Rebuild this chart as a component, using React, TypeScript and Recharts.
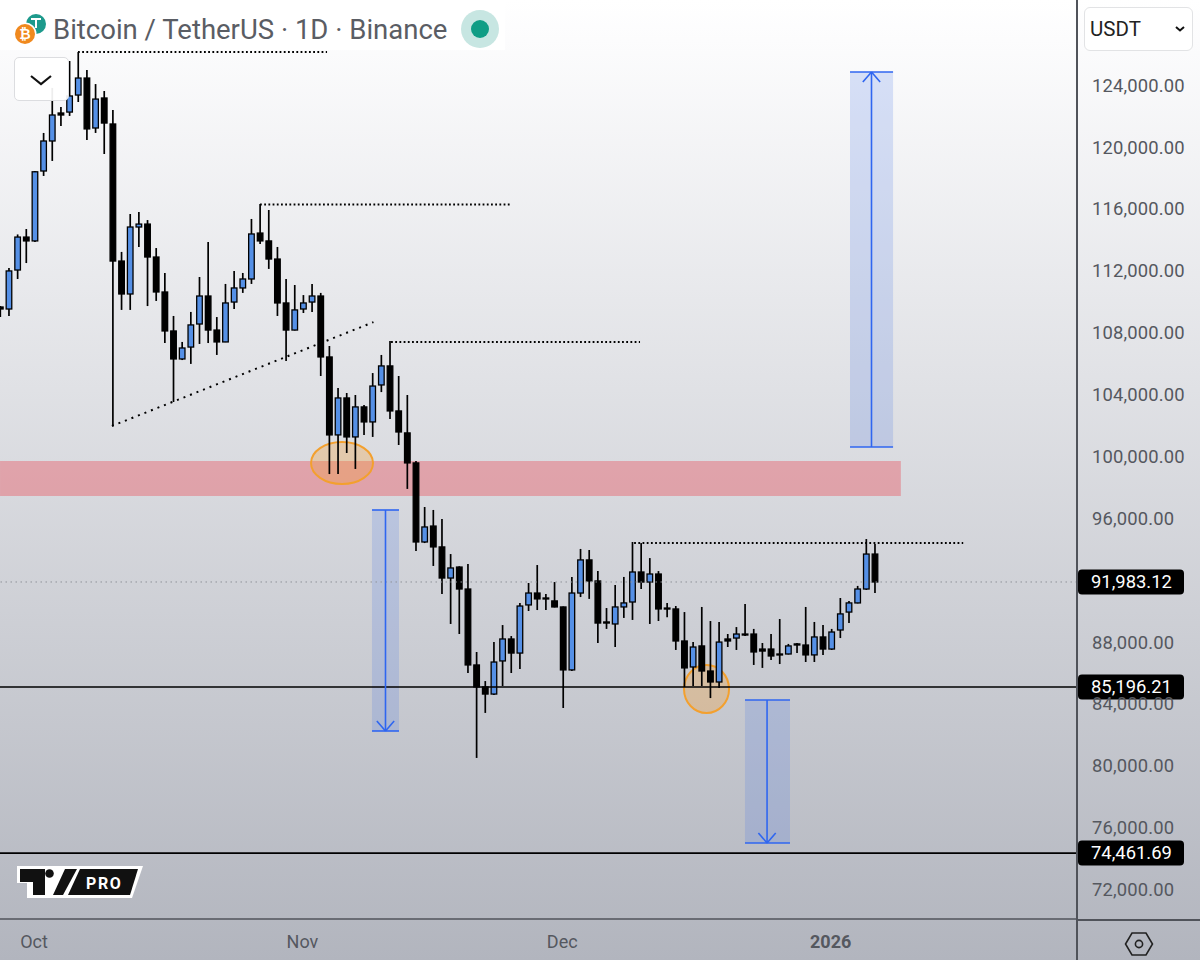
import React from 'react';
import { ComposedChart, Bar, XAxis, YAxis, ReferenceLine, ReferenceArea } from 'recharts';

const FONT = 'Roboto, sans-serif';

const opens = [109760,109630,112150,114280,114030,118550,120490,122300,122360,123460,124560,121330,123270,121590,112730,110600,114930,115120,112990,110730,108210,106400,107170,108660,110470,108270,107500,110080,110990,111570,114540,114030,112860,110020,108270,109630,110080,110470,106530,101490,103880,101360,103300,102330,104720,105950,103040,101620,99680,94570,95600,94250,92240,92950,91530,86620,85200,84740,86880,88300,87390,90500,91270,90950,90760,90370,86300,91270,93410,92050,89400,89270,90370,90690,92630,91980,92500,90300,90240,88170,86490,87850,86230,85520,88300,88360,88620,88620,87650,87650,87330,87330,87980,87910,87270,88430,87650,88880,90040,90630,91530,93790];
const highs = [109824,112280,114450,114800,118550,121010,123920,122690,125660,126240,125080,124170,123720,122490,113320,115770,115900,115380,113570,111960,109180,107500,109440,111700,113960,109110,111250,112090,111960,115450,116420,116030,113640,111570,111180,110530,111250,110670,107240,104520,104200,104070,103420,105490,106660,107560,105300,104070,99800,96830,96640,96060,93790,93000,93150,87460,85580,88100,89200,88490,90630,91920,93080,91210,91980,90400,92310,94120,94050,92690,90300,91790,92310,94570,94500,93530,92690,90630,90430,90040,88100,90370,89460,89400,88620,89070,90560,88950,88040,88620,89590,87980,88040,90370,89400,89200,88950,90950,90760,91730,94760,94440];
const lows = [109113,109180,111570,112600,113960,118230,119200,121460,122110,123010,120550,121010,119650,102070,109570,109570,113640,109820,110150,107430,103620,106330,106080,107370,107430,106660,107490,109630,110670,111250,113830,112220,109180,106270,108240,109370,109440,105300,98960,98960,100320,99290,101490,101360,104260,102520,100840,98000,93990,94500,93020,91210,89270,88620,86100,80610,83520,84680,85260,86100,86360,90110,90170,90170,90340,83840,86230,91010,90890,88040,88950,87780,89660,89530,91530,89270,89460,89700,87590,85200,85260,85260,84480,85130,87780,87590,88490,86620,86430,86940,86680,87300,87390,86810,86810,87270,87590,88360,89330,90600,91470,91270];
const closes = [109630,112090,114280,114030,118500,120490,122170,122170,123400,124560,121270,123200,121650,112730,110600,114930,115120,112990,110730,108210,106400,107110,108600,110470,108270,107500,110020,110990,111570,114480,114030,112860,110020,108270,109570,110020,110470,106530,101490,103880,101360,103300,102330,104650,105950,103040,101680,99680,94570,95540,94250,92240,92890,91530,86620,85200,84740,86810,88300,87390,90430,91270,90890,90890,90370,86300,91270,93410,92050,89330,89330,90370,90630,92630,91980,92500,90240,90240,88170,86430,87780,86230,85520,88100,88170,88620,88560,87460,87520,87200,87270,87850,87910,87270,88430,87650,88750,89920,90630,91530,93790,91983];

const yTicks = [72000, 76000, 80000, 84000, 88000, 96000, 100000, 104000, 108000, 112000, 116000, 120000, 124000];
const monthDays = [4, 35, 65, 96];
const monthLabels = ['Oct', 'Nov', 'Dec', '2026'];

const priceTags = [
  { price: 91983.12, text: '91,983.12', dotted: true },
  { price: 85196.21, text: '85,196.21', dotted: false },
  { price: 74461.69, text: '74,461.69', dotted: false },
];

// dotted drawings: [day from, price from, day to, price to]
const dottedLevels = [
  [9.08, 126242, 37.84, 126242],
  [30.1, 116385, 58.97, 116385],
  [45.23, 107497, 73.98, 107497],
  [73.3, 94504, 111.3, 94504],
  [13.0, 102067, 43.2, 108780],
];

// measured projections: box edges in days, price top/bottom and arrow direction
const projections = [
  { x1: 98.23, x2: 103.2, mid: 100.71, top: 124949, bottom: 100709, up: true },
  { x1: 43.03, x2: 46.15, mid: 44.59, top: 96637, bottom: 82352, up: false },
  { x1: 86.1, x2: 91.3, mid: 88.65, top: 84355, bottom: 75112, up: false },
];

const zone = { x1: 0.08, x2: 104.1, top: 99804, bottom: 97542 };
const ellipses = [
  { x1: 35.99, x2: 43.15, top: 101033, bottom: 98318 },
  { x1: 79.06, x2: 84.26, top: 86618, bottom: 83515 },
];

const rows = opens.map((o, i) => ({ day: i, open: o, high: highs[i], low: lows[i], close: closes[i] }));

const BLUE = '#2f66f0';

function Candle(props: any) {
  const { x, y, width, height, payload } = props;
  const { open, close, high, low } = payload;
  const cx = x + width / 2 + 0.8;
  const k = height / (high - low || 1);
  const up = close >= open;
  const top = y + (high - Math.max(open, close)) * k;
  const bottom = y + (high - Math.min(open, close)) * k;
  const w = 5.6;
  return (
    <g>
      <line x1={cx} x2={cx} y1={y} y2={y + height} stroke="#000" strokeWidth={1.7} />
      <rect
        x={cx - w / 2}
        y={top}
        width={w}
        height={Math.max(bottom - top, 1)}
        fill={up ? '#5590e6' : '#000'}
        stroke="#000"
        strokeWidth={1.3}
      />
    </g>
  );
}

function MonthTick(props: any) {
  const { x, y, payload } = props;
  const idx = monthDays.indexOf(payload.value);
  const label = monthLabels[idx];
  return (
    <text x={x} y={y + 21} textAnchor="middle" fontFamily={FONT} fontSize={18}
      fontWeight={label === '2026' ? 700 : 400} fill="#55585f">
      {label}
    </text>
  );
}

function PriceTick(props: any) {
  const { x, y, payload } = props;
  return (
    <text x={x + 7} y={y + 5} fontFamily={FONT} fontSize={18.4} letterSpacing={0.15} fill="#55585f">
      {payload.value.toLocaleString('en-US', { minimumFractionDigits: 2, maximumFractionDigits: 2 })}
    </text>
  );
}

function tagLabel(text: string) {
  return (props: any) => {
    const vb = props.viewBox;
    const xr = vb.x + vb.width + 1;
    const yc = vb.y;
    return (
      <g>
        <rect x={xr} y={yc - 12.5} width={106} height={25} rx={4} fill="#000" />
        <text x={xr + 13} y={yc + 6} fontFamily={FONT} fontSize={18.4} fill="#fff">{text}</text>
      </g>
    );
  };
}

function EllipseShape(props: any) {
  const { x, y, width, height } = props;
  return (
    <ellipse cx={x + width / 2} cy={y + height / 2} rx={width / 2} ry={height / 2}
      fill="rgba(245,160,50,0.3)" stroke="#f3a02e" strokeWidth={2} />
  );
}

function Chart() {
  return (
    <ComposedChart width={1200} height={960} data={rows} margin={{ top: 0, right: 0, bottom: 0, left: 0 }}>
      <XAxis
        dataKey="day"
        type="number"
        scale="linear"
        domain={[0.0762, 124.44]}
        allowDataOverflow
        ticks={monthDays}
        interval={0}
        height={41}
        tick={<MonthTick />}
        tickLine={false}
        axisLine={{ stroke: '#50535a', strokeWidth: 1.6 }}
      />
      <YAxis
        orientation="right"
        type="number"
        width={123}
        domain={[70199, 129604]}
        allowDataOverflow
        ticks={yTicks}
        interval={0}
        tick={<PriceTick />}
        tickLine={false}
        axisLine={{ stroke: '#50535a', strokeWidth: 2 }}
      />
      <ReferenceArea x1={zone.x1} x2={zone.x2} y1={zone.bottom} y2={zone.top}
        fill="#e8636f" fillOpacity={0.47} stroke="none" isFront={false} />
      {projections.map((b, i) => (
        <ReferenceArea key={'box' + i} x1={b.x1} x2={b.x2} y1={b.bottom} y2={b.top}
          fill="#4c78e8" fillOpacity={0.2} stroke="none" />
      ))}
      {ellipses.map((e, i) => (
        <ReferenceArea key={'el' + i} x1={e.x1} x2={e.x2} y1={e.bottom} y2={e.top} shape={<EllipseShape />} />
      ))}
      {priceTags.map((t) => (
        <ReferenceLine key={t.text} y={t.price}
          stroke={t.dotted ? '#8f9299' : '#000'}
          strokeWidth={t.dotted ? 1 : 1.7}
          strokeDasharray={t.dotted ? '1.5 3.5' : undefined}
          label={tagLabel(t.text)} />
      ))}
      {dottedLevels.map((d, i) => (
        <ReferenceLine key={'dot' + i}
          segment={[{ x: d[0], y: d[1] }, { x: d[2], y: d[3] }]}
          stroke="#000" strokeWidth={2} strokeDasharray={i === 4 ? '2 5' : '1.8 2.4'} />
      ))}
      {projections.map((b, i) => {
        const tipY = b.up ? b.top : b.bottom;
        const backY = b.up ? b.top - 650 : b.bottom + 650;
        return (
          <React.Fragment key={'arrow' + i}>
            <ReferenceLine segment={[{ x: b.mid, y: b.top }, { x: b.mid, y: b.bottom }]} stroke={BLUE} strokeWidth={1.6} />
            <ReferenceLine segment={[{ x: b.x1, y: b.top }, { x: b.x2, y: b.top }]} stroke={BLUE} strokeWidth={1.6} />
            <ReferenceLine segment={[{ x: b.x1, y: b.bottom }, { x: b.x2, y: b.bottom }]} stroke={BLUE} strokeWidth={1.6} />
            <ReferenceLine segment={[{ x: b.mid - 1.0, y: backY }, { x: b.mid, y: tipY }]} stroke={BLUE} strokeWidth={1.6} />
            <ReferenceLine segment={[{ x: b.mid + 1.0, y: backY }, { x: b.mid, y: tipY }]} stroke={BLUE} strokeWidth={1.6} />
          </React.Fragment>
        );
      })}
      <Bar dataKey={(d: any) => [d.low, d.high]} barSize={7} isAnimationActive={false} shape={<Candle />} />
    </ComposedChart>
  );
}

function Overlay() {
  const abs = (s: React.CSSProperties): React.CSSProperties => ({ position: 'absolute', ...s });
  return (
    <>
      {/* title strip */}
      <div style={abs({ left: 0, top: 0, width: 505, height: 50, background: 'rgba(255,255,255,0.85)' })} />
      <svg style={abs({ left: 0, top: 0 })} width={60} height={60}>
        <circle cx={36} cy={24} r={10} fill="#1d9a8c" />
        <path d="M31 19h10M36 19v9" stroke="#fff" strokeWidth={2} />
        <circle cx={25} cy={34} r={11.5} fill="#fff" />
        <circle cx={25} cy={34} r={10} fill="#f0891e" />
        <text x={25} y={39} fontSize={14} fontWeight={700} fontFamily={FONT} textAnchor="middle" fill="#fff">₿</text>
      </svg>
      <div style={abs({ left: 53, top: 14, fontFamily: FONT, fontSize: 27.5, lineHeight: '32px', color: '#5a5d64', whiteSpace: 'nowrap' })}>
        Bitcoin / TetherUS · 1D · Binance
      </div>
      <svg style={abs({ left: 460, top: 9 })} width={40} height={40}>
        <circle cx={20} cy={20} r={19} fill="#c7e6e2" />
        <circle cx={20} cy={20} r={9} fill="#0f9d85" />
      </svg>
      {/* collapse button */}
      <div style={abs({ left: 14, top: 57, width: 53, height: 42, background: 'rgba(255,255,255,0.93)', border: '1px solid #dcdde0', borderRadius: 5 })} />
      <svg style={abs({ left: 14, top: 57 })} width={54} height={43}>
        <path d="M17 19l10 8 10-8" fill="none" stroke="#111" strokeWidth={2.2} />
      </svg>
      {/* currency */}
      <div style={abs({ left: 1084, top: 7, width: 107, height: 42, background: '#fff', border: '1px solid #e2e3e5', borderRadius: 6 })} />
      <div style={abs({ left: 1090, top: 17, fontFamily: FONT, fontSize: 20.5, lineHeight: '24px', color: '#222' })}>USDT</div>
      <svg style={abs({ left: 1172, top: 22 })} width={16} height={14}>
        <path d="M4 5l4 3.5 4-3.5" fill="none" stroke="#111" strokeWidth={2} />
      </svg>
      {/* axis lines beyond the plot */}
      <div style={abs({ left: 1077, top: 919, width: 123, height: 1.6, background: '#50535a' })} />
      <div style={abs({ left: 1076, top: 919, width: 2, height: 41, background: '#50535a' })} />
      {/* settings hexagon */}
      <svg style={abs({ left: 1124, top: 930 })} width={30} height={28}>
        <path d="M8 3h14l6.5 11L22 25H8L1.5 14z" fill="none" stroke="#222" strokeWidth={1.6} />
        <circle cx={15} cy={14} r={3.6} fill="none" stroke="#222" strokeWidth={1.6} />
      </svg>
      {/* TradingView PRO mark */}
      <svg style={abs({ left: 16, top: 865 })} width={130} height={34}>
        <path d="M1 1H127L116 33H11V18H1z" fill="#fff" />
        <path d="M4 4H29V30H17V17H4z" fill="#111" />
        <circle cx={33.5} cy={8.5} r={4.3} fill="#111" />
        <path d="M37 30L49 4H61L47 30z" fill="#111" />
        <path d="M52 30L64 4H122L114 30z" fill="#111" />
        <text x={70} y={23.5} fontFamily={FONT} fontSize={16} fontWeight={700} letterSpacing={1.6} fill="#fff">PRO</text>
      </svg>
    </>
  );
}

export default function App() {
  return (
    <div style={{
      position: 'absolute', left: 0, top: 0, width: 1200, height: 960, overflow: 'hidden',
      background: 'linear-gradient(#ffffff 0px, #fcfcfd 40px, #b2b5be 960px)',
    }}>
      <Chart />
      <Overlay />
    </div>
  );
}
